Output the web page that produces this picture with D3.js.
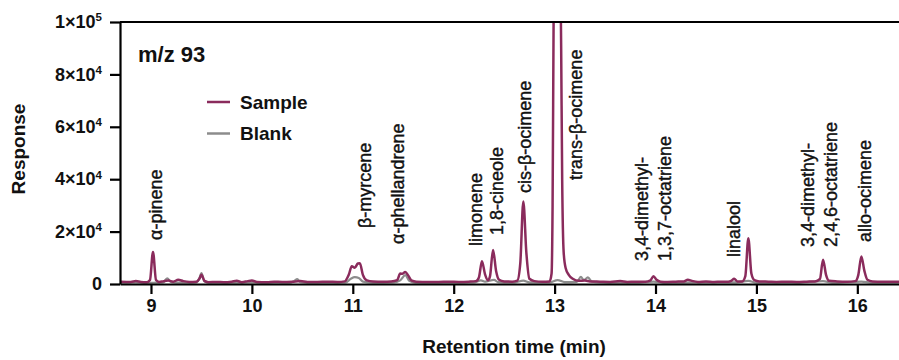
<!DOCTYPE html>
<html>
<head>
<meta charset="utf-8">
<script src="https://cdn.jsdelivr.net/npm/d3@7"></script>
<style>
  html, body { margin: 0; padding: 0; background: #fff; }
  svg { display: block; font-family: "Liberation Sans", Arial, sans-serif; }
</style>
</head>
<body>
<svg id="chart" width="899" height="360"></svg>
<script>
// Sample chromatogram (m/z 93): retention time (min) and response
const sampleTime = [
  8.70, 8.80, 8.85, 8.90, 8.96, 8.99, 9.02, 9.05, 9.08, 9.12, 9.17, 9.22, 9.27, 9.32, 9.38,
  9.45, 9.48, 9.50, 9.53, 9.57, 9.65, 9.72, 9.80, 9.85, 9.90, 9.96, 10.00, 10.05, 10.15, 10.22,
  10.30, 10.40, 10.48, 10.55, 10.65, 10.75, 10.85, 10.92, 10.96, 10.99, 11.02, 11.05, 11.07, 11.10, 11.14,
  11.20, 11.30, 11.38, 11.44, 11.47, 11.49, 11.52, 11.55, 11.58, 11.63, 11.75, 11.85, 11.95, 12.05, 12.15,
  12.22, 12.25, 12.28, 12.31, 12.34, 12.36, 12.39, 12.42, 12.45, 12.50, 12.58, 12.63, 12.66, 12.69, 12.72,
  12.75, 12.80, 12.88, 12.95, 12.97, 12.98, 12.99, 13.00, 13.03, 13.055, 13.065, 13.075, 13.09, 13.11, 13.14,
  13.18, 13.24, 13.30, 13.35, 13.45, 13.55, 13.65, 13.72, 13.80, 13.90, 13.95, 13.98, 14.01, 14.05, 14.12,
  14.20, 14.28, 14.32, 14.36, 14.42, 14.50, 14.58, 14.65, 14.72, 14.75, 14.78, 14.81, 14.86, 14.89, 14.92,
  14.95, 14.98, 15.03, 15.12, 15.20, 15.30, 15.40, 15.50, 15.58, 15.63, 15.66, 15.69, 15.72, 15.80, 15.90,
  15.98, 16.01, 16.04, 16.07, 16.10, 16.15, 16.25, 16.35, 16.45
];
const sampleResponse = [
  900, 800, 1100, 800, 700, 1500, 12200, 1500, 800, 1000, 1300, 900, 1600, 1100, 800,
  900, 2000, 3500, 1200, 700, 800, 700, 900, 1200, 700, 1100, 1300, 800, 700, 900,
  800, 900, 1100, 800, 800, 900, 800, 1000, 3500, 6800, 6200, 7800, 7900, 3500, 1400,
  1000, 900, 1000, 1500, 4000, 3900, 4600, 3200, 1400, 900, 800, 800, 900, 800, 900,
  1100, 2500, 8700, 3800, 1400, 3000, 13000, 5000, 1600, 1000, 900, 1300, 8000, 31500, 12000,
  2000, 1100, 900, 1000, 4000, 30000, 100000, 150000, 190000, 130000, 90000, 40000, 12000, 6000, 3500,
  2000, 1200, 1300, 1000, 900, 800, 1100, 800, 900, 900, 1400, 3000, 1600, 900, 800,
  900, 1000, 1600, 1200, 800, 1000, 800, 900, 900, 1200, 2000, 1000, 1000, 3000, 17500,
  4000, 1500, 1000, 900, 800, 900, 800, 900, 1000, 2000, 9300, 3500, 1200, 1000, 900,
  1100, 3500, 10500, 5000, 1600, 1000, 900, 900, 800
];

// Blank chromatogram (m/z 93)
const blankTime = [
  8.70, 8.85, 8.95, 9.05, 9.12, 9.16, 9.20, 9.30, 9.45, 9.48, 9.50, 9.53, 9.60, 9.80, 10.00,
  10.20, 10.38, 10.42, 10.45, 10.48, 10.60, 10.80, 10.93, 10.98, 11.02, 11.06, 11.10, 11.20, 11.40, 11.47,
  11.52, 11.56, 11.62, 11.90, 12.20, 12.27, 12.31, 12.40, 12.44, 12.60, 12.69, 12.75, 12.95, 13.03, 13.10,
  13.22, 13.26, 13.29, 13.33, 13.37, 13.45, 13.60, 13.80, 13.98, 14.10, 14.40, 14.80, 14.92, 15.00, 15.40,
  15.66, 15.75, 16.04, 16.15, 16.45
];
const blankResponse = [
  500, 600, 400, 500, 600, 2200, 700, 500, 600, 2200, 4200, 1000, 500, 500, 600,
  500, 500, 1200, 1900, 700, 500, 500, 600, 2000, 2600, 2300, 900, 500, 600, 1400,
  3400, 1200, 500, 500, 600, 1400, 900, 1600, 700, 600, 1300, 600, 600, 1500, 700,
  800, 2700, 1500, 2500, 900, 600, 500, 500, 900, 500, 600, 600, 1200, 500, 500,
  1100, 500, 900, 500, 500
];

// Axis ticks
const xTicks = [9, 10, 11, 12, 13, 14, 15, 16];
const yTicks = [0, 20000, 40000, 60000, 80000, 100000];
const yTickMantissa = ["0", "2", "4", "6", "8", "1"];
const yTickExponent = ["", "4", "4", "4", "4", "5"];

// Peak annotations: compound names (one entry per text line) and retention time
const compoundNames = [
  ["α-pinene"], ["β-myrcene"], ["α-phellandrene"], ["limonene"], ["1,8-cineole"],
  ["cis-β-ocimene"], ["trans-β-ocimene"], ["3,4-dimethyl-", "1,3,7-octatriene"],
  ["linalool"], ["3,4-dimethyl-", "2,4,6-octatriene"], ["allo-ocimene"]
];
const compoundTimes = [9.05, 11.115, 11.44, 12.22, 12.43, 12.705, 13.21, 13.98, 14.77, 15.625, 16.07];

const seriesNames = ["Sample", "Blank"];

// ---- layout ----
const margin = { left: 120, right: 899, top: 22, bottom: 284 };
const labelBottom = [240, 228, 244, 246, 235, 193, 180, 261, 257, 247, 242];
const colors = { Sample: "#8a2b5c", Blank: "#8c8c8c" };
const ink = "#111";

const svg = d3.select("#chart");

const x = d3.scaleLinear().domain([8.693, 16.413]).range([margin.left, margin.right]);
const y = d3.scaleLinear().domain([0, 100000]).range([margin.bottom, margin.top]);

svg.append("defs").append("clipPath").attr("id", "plotClip")
  .append("rect")
  .attr("x", margin.left + 1).attr("y", margin.top)
  .attr("width", margin.right - margin.left).attr("height", margin.bottom - margin.top + 1);

const line = d3.line()
  .x(d => x(d[0]))
  .y(d => y(d[1]))
  .curve(d3.curveMonotoneX);

const plot = svg.append("g").attr("clip-path", "url(#plotClip)");

plot.append("path")
  .datum(d3.zip(blankTime, blankResponse))
  .attr("fill", "none")
  .attr("stroke", colors.Blank)
  .attr("stroke-width", 2.2)
  .attr("stroke-linejoin", "round")
  .attr("d", line);

plot.append("path")
  .datum(d3.zip(sampleTime, sampleResponse))
  .attr("fill", "none")
  .attr("stroke", colors.Sample)
  .attr("stroke-width", 2.5)
  .attr("stroke-linejoin", "round")
  .attr("d", line);

// X axis
const xAxis = svg.append("g")
  .attr("transform", `translate(0,${margin.bottom})`)
  .call(d3.axisBottom(x).tickValues(xTicks).tickSize(10).tickPadding(5).tickSizeOuter(0));
xAxis.select(".domain").attr("stroke-width", 2.2);
xAxis.selectAll(".tick line").attr("stroke-width", 2.2);
xAxis.selectAll(".tick text")
  .attr("font-size", 18).attr("font-weight", "bold")
  .attr("font-family", "Liberation Sans, Arial, sans-serif")
  .attr("fill", ink);

// Y axis
const yAxis = svg.append("g")
  .attr("transform", `translate(${margin.left},0)`)
  .call(d3.axisLeft(y).tickValues(yTicks).tickSize(10).tickPadding(8).tickSizeOuter(0)
    .tickFormat(() => ""));
yAxis.select(".domain").attr("stroke-width", 2.2);
yAxis.selectAll(".tick line").attr("stroke-width", 2.2);
yAxis.selectAll(".tick text").each(function (d, i) {
  const t = d3.select(this)
    .attr("font-size", 18).attr("font-weight", "bold")
    .attr("font-family", "Liberation Sans, Arial, sans-serif")
    .attr("fill", ink);
  if (yTickExponent[i]) {
    t.append("tspan").text(yTickMantissa[i] + "×10");
    t.append("tspan").attr("font-size", 11.5).attr("dy", "-0.6em").text(yTickExponent[i]);
  } else {
    t.text(yTickMantissa[i]);
  }
});

// top frame line
svg.append("line")
  .attr("x1", margin.left).attr("x2", margin.right)
  .attr("y1", margin.top).attr("y2", margin.top)
  .attr("stroke", "#000").attr("stroke-width", 2.2);

// Axis titles
svg.append("text")
  .attr("x", 514).attr("y", 353)
  .attr("text-anchor", "middle")
  .attr("font-size", 19).attr("font-weight", "bold").attr("fill", ink)
  .text("Retention time (min)");

svg.append("text")
  .attr("transform", "translate(25,149) rotate(-90)")
  .attr("text-anchor", "middle")
  .attr("font-size", 19).attr("font-weight", "bold").attr("fill", ink)
  .text("Response");

// Ion label
svg.append("text")
  .attr("x", 138).attr("y", 62)
  .attr("font-size", 22).attr("font-weight", "bold").attr("fill", ink)
  .text("m/z 93");

// Legend
const legend = svg.append("g");
seriesNames.forEach((name, i) => {
  const ly = 102 + i * 31.5;
  legend.append("line")
    .attr("x1", 207).attr("x2", 230).attr("y1", ly).attr("y2", ly)
    .attr("stroke", colors[name]).attr("stroke-width", 2.5);
  legend.append("text")
    .attr("x", 240).attr("y", ly).attr("dy", "0.35em")
    .attr("font-size", 19).attr("font-weight", "bold").attr("fill", ink)
    .text(name);
});

// Peak labels, rotated to read upward
const labels = svg.append("g");
compoundNames.forEach((lines, i) => {
  const g = labels.append("g")
    .attr("transform", `translate(${x(compoundTimes[i])},${labelBottom[i]}) rotate(-90)`);
  const n = lines.length;
  lines.forEach((txt, j) => {
    g.append("text")
      .attr("x", 0)
      .attr("y", (j - (n - 1) / 2) * 23)
      .attr("dy", "0.35em")
      .attr("font-size", 18).attr("fill", ink)
      .attr("stroke", ink).attr("stroke-width", 0.4)
      .text(txt);
  });
});
</script>
</body>
</html>
